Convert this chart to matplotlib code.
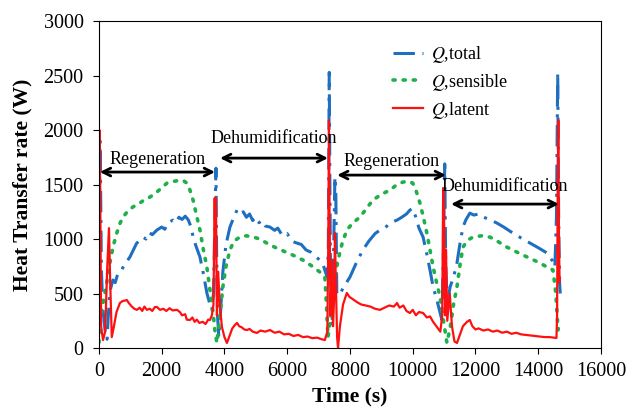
import numpy as np
import matplotlib
matplotlib.use('Agg')
import matplotlib.pyplot as plt

plt.rcParams['font.family'] = 'Liberation Serif'
plt.rcParams['mathtext.fontset'] = 'stix'

# Q total (blue, dash-dot)
t_total = [0, 40, 80, 130, 200, 260, 300, 350, 446, 520, 600, 700, 800, 900, 988, 1100, 1200, 1300, 1400, 1500,
           1600, 1700, 1850, 2000, 2100, 2200, 2360, 2450, 2550, 2650, 2750, 2850, 2950, 3000, 3100, 3220, 3330,
           3440, 3520, 3600, 3650, 3700, 3730, 3750, 3780, 3820, 3870, 3950, 4050, 4175, 4300, 4400, 4500, 4600,
           4700, 4800, 4900, 5000, 5100, 5200, 5300, 5450, 5600, 5700, 5850, 6000, 6150, 6310, 6450, 6600, 6750,
           6900, 7040, 7150, 7270, 7310, 7340, 7360, 7390, 7430, 7480, 7520, 7550, 7580, 7650, 7800, 8000, 8200,
           8410, 8600, 8800, 8960, 9100, 9300, 9500, 9650, 9800, 9910, 10000, 10100, 10200, 10330, 10450, 10550,
           10650, 10770, 10930, 10980, 11020, 11050, 11100, 11190, 11300, 11410, 11500, 11600, 11700, 11820,
           11950, 12100, 12240, 12450, 12680, 12900, 13190, 13450, 13740, 14000, 14280, 14450, 14530, 14580,
           14620, 14650, 14680, 14700]
q_total = [900, 1900, 700, 350, 150, 80, 300, 520, 624, 600, 680, 700, 760, 800, 835, 900, 960, 990, 1018, 1000,
           1060, 1040, 1083, 1110, 1090, 1150, 1174, 1150, 1200, 1180, 1210, 1175, 1100, 1018, 930, 835, 680,
           505, 420, 350, 500, 1200, 1650, 900, 300, 100, 300, 700, 950, 1110, 1200, 1266, 1230, 1250,
           1200, 1230, 1170, 1200, 1150, 1170, 1120, 1110, 1080, 1100, 1030, 1050, 980, 963, 950, 900, 880,
           840, 807, 760, 651, 900, 2530, 1500, 400, 200, 900, 1570, 1400, 505, 480, 560, 651, 780,
           899, 980, 1050, 1083, 1100, 1150, 1174, 1200, 1230, 1266, 1280, 1200, 1100, 1018, 860, 716,
           560, 440, 257, 900, 1690, 800, 400, 560, 650, 780, 950, 1110, 1180, 1238,
           1220, 1230, 1202, 1180, 1147, 1110, 1055, 1010, 963, 920, 872, 800, 743, 1200,
           2530, 1200, 600, 500]

# Q sensible (green, dotted)
t_sens = [0, 60, 150, 250, 350, 450, 570, 665, 765, 900, 1080, 1300, 1450, 1625, 1800, 2000, 2170, 2400, 2580,
          2700, 2800, 2900, 3000, 3100, 3220, 3330, 3440, 3540, 3640, 3700, 3760, 3820, 3950, 4050, 4175, 4300,
          4490, 4700, 5035, 5250, 5450, 5800, 6200, 6500, 6800, 7040, 7200, 7250, 7300, 7350, 7420, 7520, 7620,
          7750, 7900, 8100, 8320, 8500, 8730, 9000, 9275, 9500, 9690, 9850, 10000, 10100, 10230, 10340, 10450,
          10550, 10650, 10760, 10870, 10980, 11090, 11200, 11300, 11410, 11500, 11600, 11750, 11920, 12200,
          12460, 12700, 13000, 13250, 13510, 13800, 14050, 14300, 14470, 14560, 14630, 14680]
q_sens = [50, 300, 440, 600, 780, 930, 1055, 1140, 1200, 1250, 1294, 1330, 1360, 1385, 1420, 1470, 1514, 1530, 1541,
          1535, 1514, 1450, 1358, 1230, 1083, 900, 743, 530, 321, 150, 46, 200, 560, 750, 899, 980,
          1018, 1030, 1009, 980, 945, 900, 850, 807, 750, 697, 651, 400, 100, 200, 440, 650, 807,
          960, 1083, 1150, 1202, 1270, 1358, 1410, 1450, 1500, 1523, 1530, 1514, 1450, 1330, 1200, 1055,
          900, 743, 600, 468, 250, 46, 200, 400, 560, 750, 926, 990, 1018, 1030,
          1018, 980, 926, 890, 853, 815, 780, 740, 716, 500, 165, 250]

# Q latent (red, solid)
t_lat = [0, 20, 40, 70, 130, 200, 260, 320, 360, 410, 480, 560, 670, 750, 890, 960, 1050, 1130, 1210, 1300, 1380,
         1450, 1530, 1620, 1700, 1780, 1850, 1950, 2050, 2150, 2250, 2350, 2490, 2580, 2650, 2750, 2800, 2900,
         2980, 3050, 3120, 3200, 3310, 3400, 3480, 3540, 3600, 3650, 3690, 3710, 3730, 3760, 3800, 3850, 3920,
         4000, 4080, 4150, 4250, 4330, 4400, 4470, 4550, 4630, 4720, 4800, 4900, 5035, 5150, 5300, 5450, 5600,
         5750, 5900, 6050, 6200, 6350, 6500, 6650, 6800, 6950, 7100, 7200, 7280, 7310, 7330, 7350, 7380, 7420,
         7460, 7500, 7520, 7550, 7590, 7620, 7680, 7780, 7900, 7980, 8080, 8220, 8350, 8500, 8650, 8800, 8960,
         9100, 9250, 9400, 9500, 9580, 9700, 9800, 9910, 10000, 10100, 10200, 10330, 10450, 10550, 10650,
         10770, 10880, 10940, 10970, 11000, 11030, 11060, 11100, 11180, 11250, 11330, 11410, 11500, 11600,
         11730, 11820, 11900, 12000, 12100, 12250, 12400, 12550, 12700, 12850, 13000, 13150, 13300, 13450,
         13600, 13750, 13900, 14050, 14200, 14350, 14500, 14580, 14600, 14620, 14640, 14660, 14680]
q_lat = [300, 2000, 1500, 200, 73, 150, 700, 1100, 600, 100, 200, 330, 413, 430, 440, 410, 380, 360, 350, 370, 340,
         380, 350, 360, 340, 375, 376, 350, 360, 340, 365, 345, 350, 330, 300, 310, 260, 257,
         280, 240, 260, 230, 240, 220, 260, 257, 300, 400, 1376, 900, 1376, 300, 700, 400, 193,
         100, 46, 100, 180, 210, 230, 200, 190, 170, 165, 175, 150, 138, 160, 150, 165, 140,
         150, 125, 130, 110, 120, 100, 105, 90, 95, 80, 73, 150, 1000, 2090, 1200, 300, 800,
         200, 500, 1055, 600, 100, 0, 200, 400, 505, 470, 450, 422, 400, 390, 380, 360, 350,
         370, 390, 380, 413, 370, 390, 340, 321, 350, 300, 330, 321, 280, 290, 240,
         193, 150, 300, 1468, 1200, 300, 900, 250, 500, 200, 60, 46, 120, 200,
         240, 257, 200, 170, 180, 160, 170, 150, 160, 140, 150, 130, 140, 125,
         120, 115, 110, 105, 100, 100, 95, 92, 300, 1500, 2090, 1000, 600]

phase_names = ['Regeneration', 'Dehumidification', 'Regeneration', 'Dehumidification']
phase_start = [30, 3860, 7590, 11220]
phase_end = [3700, 7300, 11060, 14660]
phase_y = [1615, 1743, 1587, 1321]
label_y = [1730, 1920, 1710, 1480]

fig = plt.figure(figsize=(6.3, 4.07), dpi=100)
ax = fig.add_axes([0.157, 0.145, 0.797, 0.803])

ax.plot(t_total, q_total, color='#1f6fc0', lw=2.2, linestyle=(0, (7, 2.5, 1, 2.5)), label=r'$Q$,total')
ax.plot(t_sens, q_sens, color='#1fb04a', lw=2.6, linestyle=(0, (0.6, 2.2)), dash_capstyle='round',
        label=r'$Q$,sensible')
ax.plot(t_lat, q_lat, color='#ff1010', lw=1.6, label=r'$Q$,latent')

for name, x1, x2, y, ly in zip(phase_names, phase_start, phase_end, phase_y, label_y):
    ax.annotate('', xy=(x2, y), xytext=(x1, y),
                arrowprops=dict(arrowstyle='<->', color='black', lw=2, mutation_scale=14,
                                shrinkA=0, shrinkB=0))
    ax.text((x1 + x2) / 2, ly, name, ha='center', va='center', fontsize=13)

ax.set_xlim(0, 16000)
ax.set_ylim(0, 3000)
ax.set_xticks(np.arange(0, 16001, 2000))
ax.set_yticks(np.arange(0, 3001, 500))
ax.tick_params(axis='both', direction='out', length=4, labelsize=14.5)
ax.tick_params(axis='y', pad=7)
ax.tick_params(axis='x', pad=6)
ax.set_xlabel('Time (s)', fontsize=15.5, fontweight='bold', labelpad=4)
ax.set_ylabel('Heat Transfer rate (W)', fontsize=15.5, fontweight='bold', labelpad=8)

ax.legend(loc='upper left', bbox_to_anchor=(0.554, 0.98), frameon=False, fontsize=13,
          labelspacing=0.38, handlelength=1.65, handletextpad=0.45)

fig.savefig('out.png', dpi=100)
